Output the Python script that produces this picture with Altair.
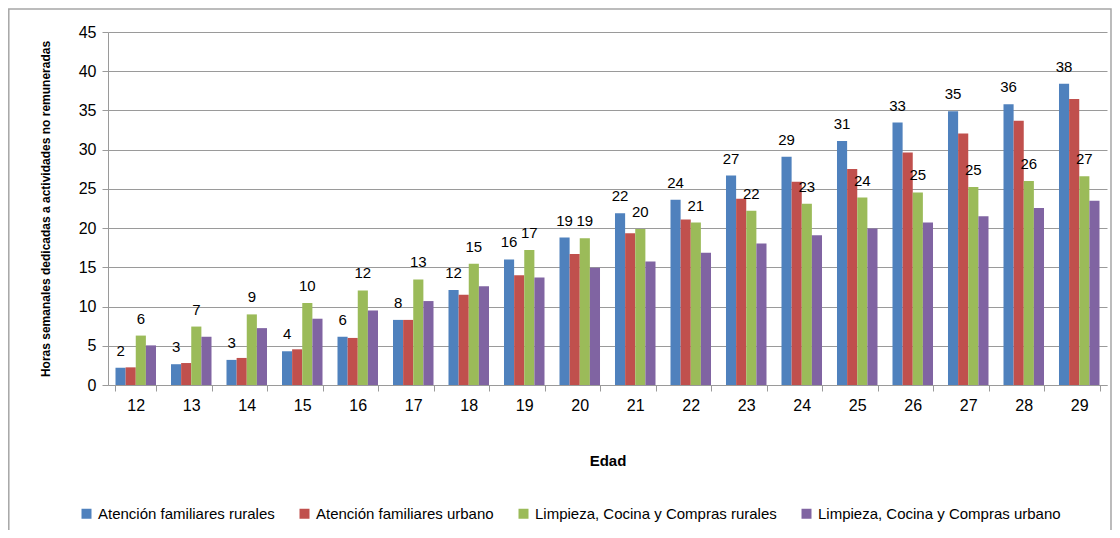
import altair as alt
import pandas as pd

ages = list(range(12, 30))
series_names = [
    "Atención familiares rurales",
    "Atención familiares urbano",
    "Limpieza, Cocina y Compras rurales",
    "Limpieza, Cocina y  Compras urbano",
]
colors = ["#4F81BD", "#C0504D", "#9BBB59", "#8064A2"]

atencion_rural = [2.2, 2.65, 3.2, 4.3, 6.15, 8.3, 12.1, 16.0, 18.8, 21.9, 23.6, 26.7, 29.1, 31.1, 33.45, 34.9, 35.8, 38.4]
atencion_urbano = [2.25, 2.8, 3.45, 4.55, 6.0, 8.3, 11.5, 14.0, 16.7, 19.35, 21.1, 23.75, 25.9, 27.55, 29.65, 32.05, 33.7, 36.45]
limpieza_rural = [6.3, 7.45, 9.0, 10.45, 12.05, 13.45, 15.45, 17.2, 18.7, 19.9, 20.7, 22.2, 23.1, 23.9, 24.55, 25.25, 26.0, 26.6]
limpieza_urbano = [5.05, 6.15, 7.25, 8.45, 9.5, 10.7, 12.6, 13.7, 14.95, 15.75, 16.85, 18.05, 19.1, 19.95, 20.7, 21.5, 22.55, 23.5]
y_ticks = [0, 5, 10, 15, 20, 25, 30, 35, 40, 45]

rows = []
for name, vals in zip(series_names, [atencion_rural, atencion_urbano, limpieza_rural, limpieza_urbano]):
    for a, v in zip(ages, vals):
        rows.append({"edad": a, "serie": name, "horas": v})
df = pd.DataFrame(rows)
labeled = [series_names[0], series_names[2]]

FONT = "Liberation Sans"
GRID = "#9a9a9a"

x_enc = alt.X(
    "edad:O",
    title="Edad",
    scale=alt.Scale(paddingInner=0.27, paddingOuter=0.135),
    axis=alt.Axis(
        labelAngle=0, tickBand="extent", tickSize=6, tickColor=GRID,
        domainColor=GRID, labelFontSize=16, labelPadding=6,
        titleFontSize=15, titleFontWeight="bold", titlePadding=40,
        labelFont=FONT, titleFont=FONT, labelColor="#000", titleColor="#000",
    ),
)
xoff_enc = alt.XOffset(
    "serie:N",
    scale=alt.Scale(domain=series_names, paddingInner=0, paddingOuter=0),
)
y_enc = alt.Y(
    "horas:Q",
    scale=alt.Scale(domain=[0, 45], nice=False),
    axis=alt.Axis(
        values=y_ticks, labelOverlap=False,
        title="Horas semanales dedicadas a actividades no remuneradas",
        titleFontSize=12, titleFontWeight="bold", titlePadding=26,
        labelFontSize=16, labelPadding=6, tickSize=6, tickColor=GRID,
        domainColor=GRID, gridColor=GRID, labelFont=FONT, titleFont=FONT,
        labelColor="#000", titleColor="#000",
    ),
)

bars = alt.Chart(df).mark_bar().encode(
    x=x_enc,
    xOffset=xoff_enc,
    y=y_enc,
    color=alt.Color(
        "serie:N",
        scale=alt.Scale(domain=series_names, range=colors),
        legend=alt.Legend(
            title=None, orient="none", direction="horizontal",
            legendX=-29, legendY=474, symbolType="square", symbolSize=100,
            symbolStrokeWidth=0, labelFontSize=15, labelFont=FONT,
            labelColor="#000", columnPadding=22, padding=0, labelLimit=0,
            labelOffset=4,
        ),
    ),
)

labels = alt.Chart(df).transform_filter(
    alt.FieldOneOfPredicate(field="serie", oneOf=labeled)
).mark_text(fontSize=15, font=FONT, dy=-12, baseline="alphabetic", color="#000").encode(
    x=x_enc,
    xOffset=xoff_enc,
    y=y_enc,
    text=alt.Text("horas:Q", format=".0f"),
)

frame = alt.Chart(pd.DataFrame({"a": [0]})).mark_rect(
    fillOpacity=0, stroke="#a6a6a6", strokeWidth=1.5
).encode(
    x=alt.value(-99.2), x2=alt.value(1003), y=alt.value(-23), y2=alt.value(530)
)

chart = alt.layer(frame, bars, labels).properties(
    width=999,
    height=353,
    autosize=alt.AutoSizeParams(type="none"),
    padding={"left": 100, "top": 24, "right": 5, "bottom": 145},
).configure_view(stroke=None)

chart.save("out.html", embed_options={"renderer": "svg", "actions": False})
